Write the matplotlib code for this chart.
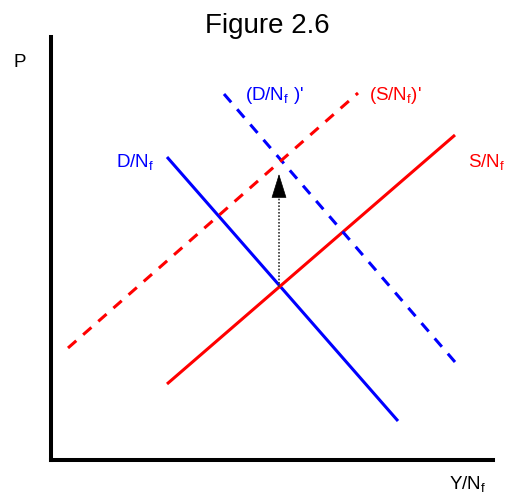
import matplotlib
matplotlib.use("Agg")
import matplotlib.pyplot as plt

plt.rcParams['font.family'] = ['Liberation Sans', 'DejaVu Sans']
plt.rcParams['mathtext.fontset'] = 'custom'
plt.rcParams['mathtext.rm'] = 'Liberation Sans'
plt.rcParams['mathtext.it'] = 'Liberation Sans'

# Conceptual diagram coordinates (output Y/Nf on x, price P on y)
demand_x = [116, 347]
demand_y = [303, 39]
supply_x = [116, 404]
supply_y = [76, 325]
demand2_x = [173, 404]
demand2_y = [366, 98]
supply2_x = [17, 307]
supply2_y = [112, 367]
arrow_x = 228
arrow_y = [173, 286]

W, H = 512, 494
fig = plt.figure(figsize=(W / 100, H / 100), dpi=100)
ax = fig.add_axes([51 / W, 1 - 460 / H, (493 - 51) / W, (460 - 37) / H])
ax.set_xlim(0, 442)
ax.set_ylim(0, 423)
for s in ['top', 'right']:
    ax.spines[s].set_visible(False)
for s in ['left', 'bottom']:
    ax.spines[s].set_linewidth(2.9)
ax.set_xticks([])
ax.set_yticks([])

lw = 2.2
dash = (0, (3.6, 3.0))
ax.plot(demand_x, demand_y, color='#0000ff', lw=lw, solid_capstyle='butt')
ax.plot(supply_x, supply_y, color='#ff0000', lw=lw, solid_capstyle='butt')
ax.plot(demand2_x, demand2_y, color='#0000ff', lw=lw, linestyle=dash, dash_capstyle='butt')
ax.plot(supply2_x, supply2_y, color='#ff0000', lw=lw, linestyle=dash, dash_capstyle='butt')

# dotted shift arrow
ax.plot([arrow_x, arrow_x], [arrow_y[0], arrow_y[1] - 20], color='#333333', lw=1.2,
        linestyle=(0, (1, 1)))
ax.annotate('', xy=(arrow_x, arrow_y[1]), xytext=(arrow_x, arrow_y[1] - 22),
            arrowprops=dict(arrowstyle='-|>,head_length=1.6,head_width=0.5',
                            color='black', lw=0.5, shrinkA=0, shrinkB=0))

def ftext(px, py, s, size, color='black', ha='center', va='center'):
    fig.text(px / W, 1 - py / H, s, fontsize=size, color=color, ha=ha, va=va)

ftext(267, 33, 'Figure 2.6', 20, va='baseline')
ftext(20, 67, 'P', 13.5, va='baseline')
ftext(468, 489, r'Y/N$_\mathregular{f}$', 13.5, va='baseline')
ftext(135, 167, r'D/N$_\mathregular{f}$', 13.5, color='#0000ff', va='baseline')
ftext(487, 167, r'S/N$_\mathregular{f}$', 13.5, color='#ff0000', va='baseline')
ftext(274, 100, r"(D/N$_\mathregular{f}$ )'", 13.5, color='#0000ff', va='baseline')
ftext(395, 100, r"(S/N$_\mathregular{f}$)'", 13.5, color='#ff0000', va='baseline')

fig.savefig('out.png', dpi=100)
